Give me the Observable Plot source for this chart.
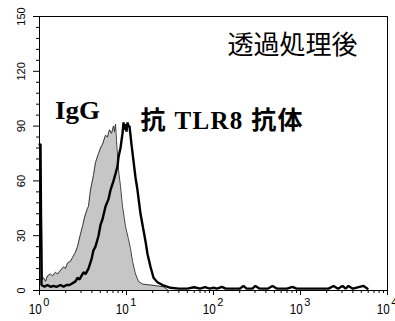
<!DOCTYPE html>
<html><head><meta charset="utf-8">
<script src="https://cdn.jsdelivr.net/npm/d3@7"></script>
<script src="https://cdn.jsdelivr.net/npm/@observablehq/plot@0.6"></script>
<style>
html,body{margin:0;padding:0;background:#fff;}
#chart svg{display:block;}
</style></head><body><div id="chart"></div>
<script>
// IgG isotype control (grey filled histogram)
const iggX = [1.00,1.054,1.083,1.112,1.172,1.236,1.338,1.411,1.527,1.610,1.743,1.888,1.990,2.098,2.272,2.395,2.592,2.733,2.960,3.120,3.289,3.560,3.655,3.854,4.17,4.40,4.77,5.03,5.30,5.74,6.05,6.38,6.73,7.09,7.28,7.48,7.68,8.09,8.53,9.00,9.74,10.54,11.11,11.72,12.68,13.73,15.27,18.87,22.70,26.62,30.39];
const iggY = [42,42,6,7,5,8,9,8,10,9,11,13,12,15,16,18,21,24,31,35,40,45,46,55,63,70,75,78,80,85,84,88,86,90,87,91,82,66,57,46,35,28,23,16,9,5,3.5,3,2.5,2,0];
// anti-TLR8 antibody (black line histogram)
const tlrX = [1.00,1.027,1.054,1.142,1.236,1.338,1.448,1.568,1.743,1.888,2.044,2.213,2.395,2.592,2.733,2.884,3.039,3.203,3.377,3.655,3.957,4.17,4.40,4.77,5.03,5.30,5.74,6.21,6.55,7.09,7.48,7.88,8.09,8.53,8.76,9.00,9.24,9.49,9.74,10.0,10.27,10.54,10.82,11.11,11.41,12.03,12.68,13.37,14.49,15.68,16.53,17.43,18.87,20.43,22.70,25.93,32.0,
  40,50,60,70,80,90,100,110,125,138,160,200,221,240,280,303,340,420,476,540,700,809,900,1500,2100,2400,2700,3040,3300,3560,4000,5300,5900];
const tlrY = [80,80,3,2,3,2,2.5,2,3,2,3,3,4,5,7,6,8,10,9,12,17,22,24,30,36,39,46,50,55,60,64,68,73,78,82,86,92,88,91,87,92,90,90,85,80,71,62,55,42,33,27,20,13,7,4.5,3,1.5,
  1,1,1.8,1,1.8,1,1.5,1,2,1,1,1,2.5,1,1,2.5,1,1,2.5,1,1,2,1,1,1,2.5,1,2.5,1,2.5,1,2.5,1];

const decades = [1,10,100,1000,10000];
const decadeExp = ["0","1","2","3","4"];
const yTicks = [0,30,60,90,120,150];
const yMinor = [6,12,18,24,36,42,48,54,66,72,78,84,96,102,108,114,126,132,138,144];
const titleText = "透過処理後";
const iggLabel = "IgG";
const tlrLabel = "抗 TLR8 抗体";

const xMinor = decades.slice(0,-1).flatMap(d => [2,3,4,5,6,7,8,9].map(k => k*d));
const igg = iggX.map((x,i) => ({x, y: iggY[i]}));
const tlr = tlrX.map((x,i) => ({x, y: tlrY[i]}));
const numFont = "'Liberation Sans Narrow','Arial Narrow','Liberation Sans',Arial,sans-serif";

const plot = Plot.plot({
  width: 395, height: 321,
  marginLeft: 39, marginRight: 8, marginTop: 16, marginBottom: 31,
  x: {type: "log", domain: [1, 10000], axis: null},
  y: {domain: [0, 150], axis: null},
  style: {background: "#fff", color: "#000", fontFamily: "'Liberation Sans',Arial,sans-serif"},
  marks: [
    Plot.areaY(igg, {x: "x", y: "y", fill: "#c6c6c6"}),
    Plot.lineY(igg, {x: "x", y: "y", stroke: "#2a2a2a", strokeWidth: 0.9}),
    Plot.lineY(tlr, {x: "x", y: "y", stroke: "#000", strokeWidth: 2.4, strokeLinejoin: "miter"}),
    Plot.frame({stroke: "#000", strokeWidth: 1}),
    Plot.axisX({ticks: decades, tickSize: 5, tickFormat: () => "", label: null}),
    Plot.axisX({ticks: xMinor, tickSize: 3, tickFormat: () => "", label: null}),
    Plot.axisY({ticks: yTicks, tickSize: 6, tickFormat: () => "", label: null}),
    Plot.axisY({ticks: yMinor, tickSize: 3, tickFormat: () => "", label: null}),
    Plot.text(decades, {x: d => d, frameAnchor: "bottom", lineAnchor: "middle", text: (d,i) => "10" + decadeExp[i], dx: -0.5, dy: 19, fontSize: 15, fontFamily: numFont, textAnchor: "middle", className: "xlab"}),
    Plot.text(yTicks, {y: d => d, frameAnchor: "left", lineAnchor: "middle", text: d => String(d), dx: -18, rotate: -90, fontSize: 11, fontFamily: "'Liberation Sans',Arial,sans-serif", textAnchor: "middle", className: "ylab"}),
    Plot.text([titleText], {x: () => 809, y: () => 134, text: d => d, fontSize: 26, fontFamily: "'Noto Sans CJK JP',sans-serif", textAnchor: "middle", lineAnchor: "middle"}),
    Plot.text([iggLabel], {x: () => 2.73, y: () => 98.5, text: d => d, fontSize: 25, fontWeight: "bold", fontFamily: "'Liberation Serif','Noto Sans CJK JP',serif", textAnchor: "middle", lineAnchor: "middle", className: "igglab"}),
    Plot.text([tlrLabel], {x: () => 123.6, y: () => 92.8, text: d => d, fontSize: 25, fontWeight: "bold", fontFamily: "'Liberation Serif','Noto Sans CJK JP',serif", textAnchor: "middle", lineAnchor: "middle", className: "tlrlab"})
  ]
});
document.getElementById("chart").appendChild(plot);
const svg = d3.select(plot);
// split "10" + exponent into base and superscript tspans
svg.selectAll(".xlab text").each(function(){
  const full = this.textContent;
  const base = full.slice(0, 2), exp = full.slice(2);
  const t = d3.select(this);
  t.text(null);
  t.append("tspan").text(base).attr("textLength", 13).attr("lengthAdjust", "spacingAndGlyphs");
  t.append("tspan").text(exp).attr("dx", 1.5).attr("dy", -8.5).attr("font-size", 11);
});
svg.selectAll(".ylab text").each(function(){ const t = this.textContent; d3.select(this).attr("textLength", t.length === 1 ? 6 : t.length === 2 ? 12.5 : 18.5).attr("lengthAdjust", "spacingAndGlyphs"); });
svg.selectAll(".igglab text").attr("textLength", 45).attr("lengthAdjust", "spacingAndGlyphs");
svg.selectAll(".tlrlab text").attr("textLength", 162).attr("lengthAdjust", "spacing");
</script>
</body></html>
